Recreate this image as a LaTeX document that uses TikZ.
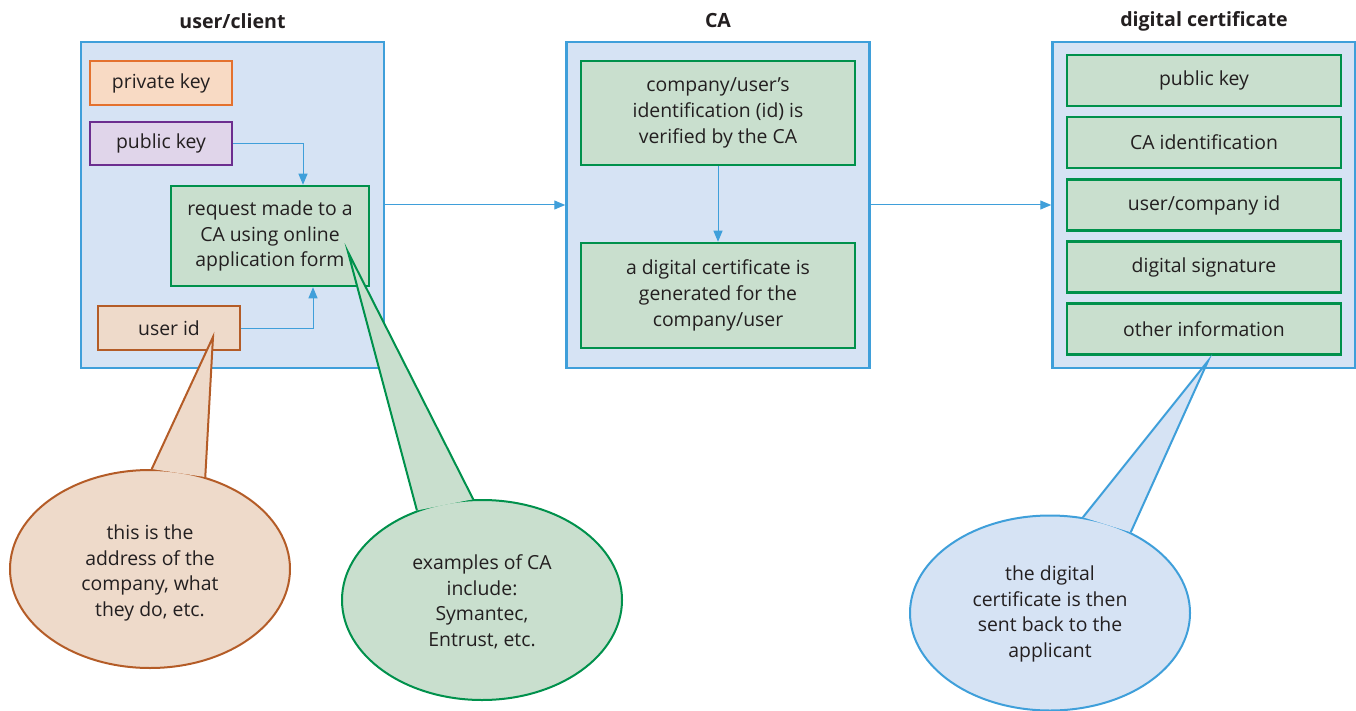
\documentclass[tikz,border=0pt]{standalone}
\usepackage{fontspec}
\setmainfont{Open Sans}
\usetikzlibrary{shapes.geometric,arrows.meta,calc}
\definecolor{panelfill}{HTML}{D6E3F4}
\definecolor{paneldraw}{HTML}{3F9FDA}
\definecolor{grfill}{HTML}{C9DFCE}
\definecolor{grdraw}{HTML}{00914C}
\definecolor{orfill}{HTML}{F8DAC4}
\definecolor{ordraw}{HTML}{E4712E}
\definecolor{pufill}{HTML}{E0D5EA}
\definecolor{pudraw}{HTML}{6C2E8F}
\definecolor{brfill}{HTML}{EEDACA}
\definecolor{brdraw}{HTML}{B45C27}
\definecolor{txt}{HTML}{231F20}
\tikzset{
  panel/.style={draw=paneldraw, fill=panelfill, line width=2.5pt, minimum width=303pt, minimum height=326pt, inner sep=0pt},
  ttl/.style={font=\fontsize{19.6}{23}\selectfont\bfseries, text=txt},
  box/.style={line width=2.5pt, inner sep=0pt, align=center, text=txt},
  grbox/.style={box, draw=grdraw, fill=grfill},
  arr/.style={draw=paneldraw, line width=1pt, -{Triangle[length=11pt,width=9pt]}},
  bubble/.style={ellipse, line width=2pt, inner sep=0pt, align=center, text=txt, minimum width=280pt},
}
\begin{document}
\begin{tikzpicture}[x=1pt,y=-1pt,font=\fontsize{19.4}{25.6}\selectfont]
\useasboundingbox (0,0) rectangle (1356,711);
% titles
\node[ttl] (t1) at (232.5,21) {user/client};
\node[ttl] (t2) at (718,21) {CA};
\node[ttl] (t3) at (1204,21) {digital certificate};
% panels
\node[panel] (p1) at (232.5,205) {};
\node[panel] (p2) at (718,205) {};
\node[panel] (p3) at (1204,205) {};
% panel 1
\node[box, draw=ordraw, fill=orfill, minimum width=142pt, minimum height=44pt] (priv) at (161,83) {private key};
\node[box, draw=pudraw, fill=pufill, minimum width=142pt, minimum height=43pt] (pub) at (161,143.5) {public key};
\node[grbox, minimum width=198pt, minimum height=100pt] (req) at (270,236) {request made to a\\CA using online\\application form};
\node[box, draw=brdraw, fill=brfill, minimum width=142pt, minimum height=44pt] (uid) at (169,328) {user id};
\draw[arr] (pub.east) -| ([xshift=33pt]req.north);
\draw[arr] (uid.east) -| ([xshift=43pt]req.south);
% panel 2
\node[grbox, minimum width=274pt, minimum height=104pt] (ca1) at (718,113) {company/user’s\\identification (id) is\\verified by the CA};
\node[grbox, minimum width=274pt, minimum height=105pt] (ca2) at (718,295.5) {a digital certificate is\\generated for the\\company/user};
\draw[arr] (ca1) -- (ca2);
% panel 3
\node[grbox, minimum width=274pt, minimum height=51pt] (c1) at (1204,80.5) {public key};
\node[grbox, minimum width=274pt, minimum height=51pt] (c2) at (1204,142.5) {CA identification};
\node[grbox, minimum width=274pt, minimum height=51pt] (c3) at (1204,205) {user/company id};
\node[grbox, minimum width=274pt, minimum height=51pt] (c4) at (1204,267) {digital signature};
\node[grbox, minimum width=274pt, minimum height=51pt] (c5) at (1204,329) {other information};
% panel arrows
\draw[arr] (p1.east) -- (p2.west);
\draw[arr] (p2.east) -- (p3.west);
% callouts
\coordinate (tipA) at (213,337);
\coordinate (tipB) at (348,252);
\coordinate (tipC) at (1208,361);
\node[bubble, draw=brdraw, fill=brfill, minimum height=198pt] (e1) at (150,569) {};
\node[align=center, text=txt] (e1t) at (150,573) {this is the\\address of the\\company, what\\they do, etc.};
\fill[brfill] (e1.89) -- (tipA) -- (e1.59) -- cycle;
\draw[brdraw, line width=2pt, line join=miter] (e1.89) -- (tipA) -- (e1.59);
\node[bubble, draw=grdraw, fill=grfill, minimum height=200pt] (e2) at (482,600) {};
\node[align=center, text=txt] (e2t) at (482,602) {examples of CA\\include:\\Symantec,\\Entrust, etc.};
\fill[grfill] (e2.126) -- (tipB) -- (e2.95) -- cycle;
\draw[grdraw, line width=2pt, line join=miter] (e2.126) -- (tipB) -- (e2.95);
\node[bubble, draw=paneldraw, fill=panelfill, minimum height=195pt] (e3) at (1050,613) {};
\node[align=center, text=txt] (e3t) at (1050,614) {the digital\\certificate is then\\sent back to the\\applicant};
\fill[panelfill] (e3.71) -- (tipC) -- (e3.45) -- cycle;
\draw[paneldraw, line width=2pt, line join=miter] (e3.71) -- (tipC) -- (e3.45);
\end{tikzpicture}
\end{document}
